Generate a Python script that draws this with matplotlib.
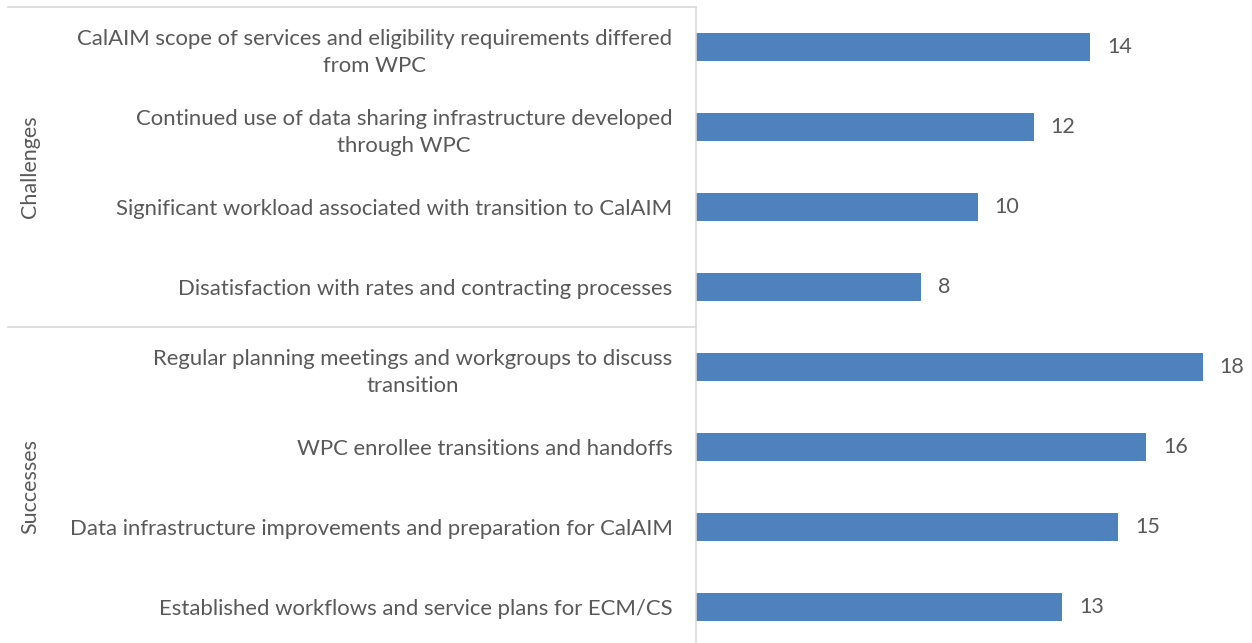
import matplotlib
matplotlib.use("Agg")
import matplotlib.pyplot as plt

categories = [
    "CalAIM scope of services and eligibility requirements differed\nfrom WPC",
    "Continued use of data sharing infrastructure developed\nthrough WPC",
    "Significant workload associated with transition to CalAIM",
    "Disatisfaction with rates and contracting processes",
    "Regular planning meetings and workgroups to discuss\ntransition",
    "WPC enrollee transitions and handoffs",
    "Data infrastructure improvements and preparation for CalAIM",
    "Established workflows and service plans for ECM/CS",
]
values = [14, 12, 10, 8, 18, 16, 15, 13]
groups = ["Challenges", "Successes"]
group_sizes = [4, 4]

plt.rcParams['font.family'] = ['Lato', 'DejaVu Sans']
text_color = "#595959"
bar_color = "#4F81BD"
grid_color = "#D9D9D9"

fig = plt.figure(figsize=(12.52, 6.43), dpi=100)
W, H = 1252, 643
ax = fig.add_axes([696 / W, -4 / H, (1245 - 696) / W, (647 - 7) / H])

ypos = list(range(len(categories)))
ax.barh(ypos, values, height=0.35, color=bar_color)
ax.set_xlim(0, 19.5)
ax.set_ylim(len(categories) - 0.5, -0.5)

ax.set_yticks(ypos)
ax.set_yticklabels(categories, fontsize=15.9, color=text_color, ha="right",
                   multialignment="center", linespacing=1.45)
ax.tick_params(axis="y", length=0, pad=17)
ax.set_xticks([])
for s in ["top", "right", "bottom"]:
    ax.spines[s].set_visible(False)
ax.spines["left"].set_color(grid_color)
ax.spines["left"].set_linewidth(1.2)

for y, v in zip(ypos, values):
    ax.text(v + 0.6, y, str(v), va="center", ha="left", fontsize=15.5, color=text_color)

# group separators and labels
trans = ax.get_yaxis_transform()
x_left = (8 - 696) / (1245 - 696)
x_lab = (30 - 696) / (1245 - 696)
start = 0
bounds = [-0.5]
for g, n in zip(groups, group_sizes):
    mid = start + (n - 1) / 2
    ax.text(x_lab, mid, g, rotation=90, va="center", ha="center", fontsize=15.5,
            color=text_color, transform=trans, clip_on=False)
    start += n
    bounds.append(start - 0.5)
for b in bounds:
    ax.plot([x_left, 0], [b, b], transform=trans, color=grid_color, lw=1.2, clip_on=False)

fig.savefig("out.png", dpi=100)
